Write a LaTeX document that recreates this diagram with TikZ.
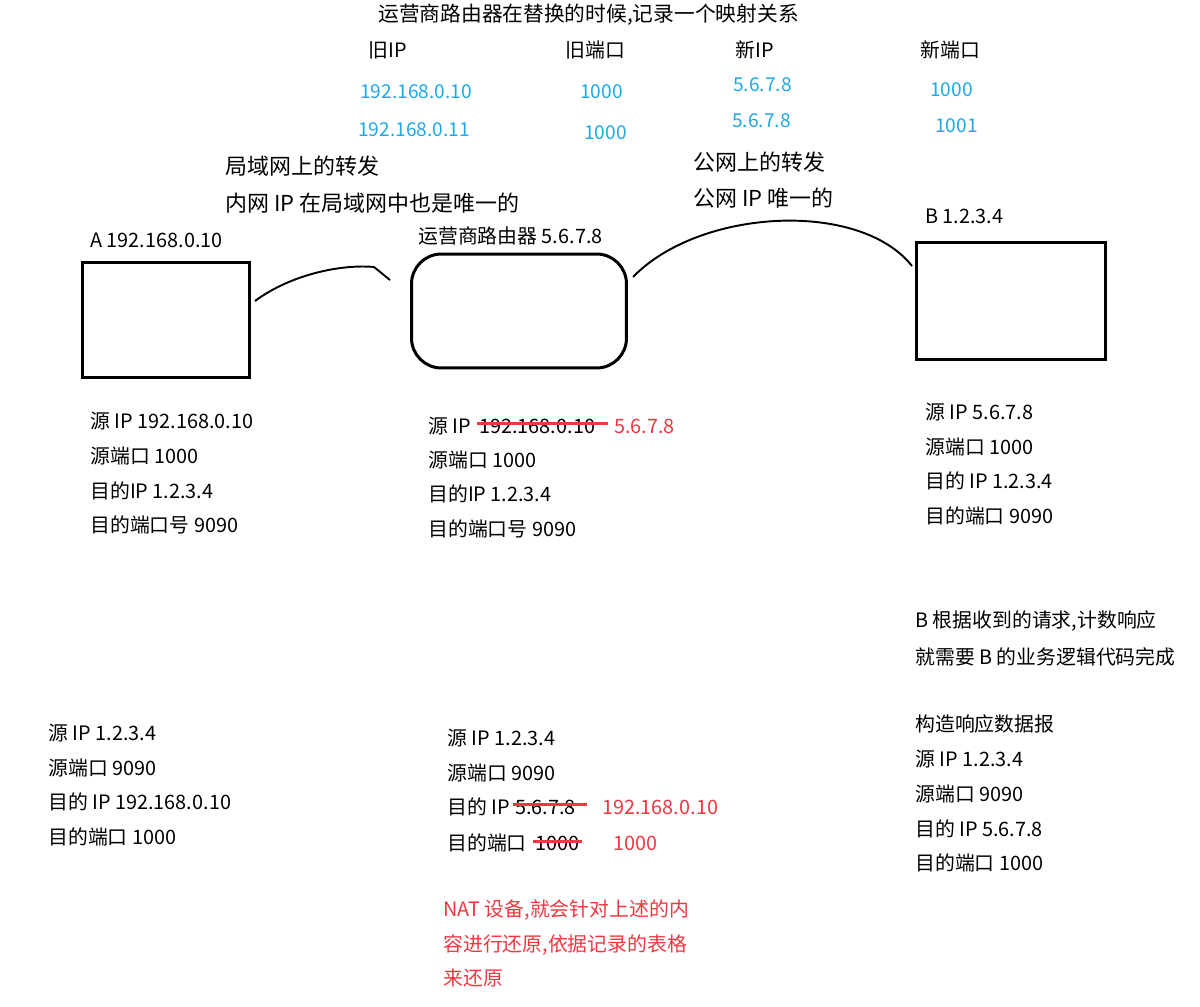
\documentclass[tikz,border=0pt]{standalone}
\usepackage{fontspec}
\setmainfont{Noto Sans CJK SC}
\usetikzlibrary{positioning}
\definecolor{tblue}{RGB}{30,168,230}
\definecolor{tred}{RGB}{240,55,65}

\begin{document}
\begin{tikzpicture}[x=0.02cm, y=-0.02cm,
    txt/.style={anchor=west, inner sep=0pt, font=\fontsize{11.3pt}{13pt}\selectfont},
    note/.style={txt, font=\fontsize{12.5pt}{15pt}\selectfont},
    tab/.style={txt, text=tblue, font=\fontsize{10.9pt}{13pt}\selectfont},
    chg/.style={txt, text=tred},
    host/.style={draw, line width=1.7pt, inner sep=0pt},
    link/.style={line width=1.1pt},
    strike/.style={draw=tred, line width=1.7pt}
]
\useasboundingbox (0,0) rectangle (1200,1007);

% mapping table
\node[txt, font=\fontsize{11.8pt}{14pt}\selectfont] (title) at (378,15) {运营商路由器在替换的时候,记录一个映射关系};
\node[txt] (hoip) at (368,50) {旧IP};
\node[txt] (hopt) at (565,50) {旧端口};
\node[txt] (hnip) at (735,50) {新IP};
\node[txt] (hnpt) at (920,50) {新端口};
\node[tab] (oip1) at (360,92) {192.168.0.10};
\node[tab] (opt1) at (580,92) {1000};
\node[tab] (nip1) at (733,85) {5.6.7.8};
\node[tab] (npt1) at (930,90) {1000};
\node[tab] (oip2) at (358,130) {192.168.0.11};
\node[tab] (opt2) at (584,133) {1000};
\node[tab] (nip2) at (732,121) {5.6.7.8};
\node[tab] (npt2) at (935,126) {1001};

% hosts
\node[note] (lan1) at (225,166) {局域网上的转发};
\node[note] (lan2) at (225,203) {内网 IP 在局域网中也是唯一的};
\node[note] (wan1) at (693,162) {公网上的转发};
\node[note] (wan2) at (693,198) {公网 IP 唯一的};
\node[txt] (alab) at (90,240) {A 192.168.0.10};
\node[txt] (rlab) at (418,236) {运营商路由器 5.6.7.8};
\node[txt] (blab) at (925,216) {B 1.2.3.4};
\node[host, minimum width=3.36cm, minimum height=2.32cm] (hostA) at (166,320) {};
\node[host, rounded corners=17pt, minimum width=4.3cm, minimum height=2.28cm] (router) at (519,311) {};
\node[host, minimum width=3.78cm, minimum height=2.36cm] (hostB) at (1011,301) {};

\coordinate (la) at (255,301);
\coordinate (lb) at (374,267);
\coordinate (lc) at (390,280);
\coordinate (wa) at (633,277);
\coordinate (wb) at (912,266);
\draw[link, line join=round] (la) .. controls (290,275) and (340,264) .. (lb) -- (lc);
\draw[link] (wa) .. controls (700,208) and (860,200) .. (wb);

% request
\node[txt] (a1) at (90,421) {源 IP 192.168.0.10};
\node[txt] (a2) at (90,456) {源端口 1000};
\node[txt] (a3) at (90,491) {目的IP 1.2.3.4};
\node[txt] (a4) at (90,525) {目的端口号 9090};

\node[txt] (r1) at (428,426) {源 IP};
\node[txt] (r1old) at (479,426) {192.168.0.10};
\node[chg] (r1new) at (614,426) {5.6.7.8};
\node[txt] (r2) at (428,460) {源端口 1000};
\node[txt] (r3) at (428,494) {目的IP 1.2.3.4};
\node[txt] (r4) at (428,529) {目的端口号 9090};
\draw[strike] ([xshift=-1pt,yshift=1.5pt]r1old.west) -- ([xshift=7pt,yshift=1.5pt]r1old.east);

\node[txt] (b1) at (925,412) {源 IP 5.6.7.8};
\node[txt] (b2) at (925,447) {源端口 1000};
\node[txt] (b3) at (925,481) {目的 IP 1.2.3.4};
\node[txt] (b4) at (925,516) {目的端口 9090};

% response
\node[txt] (bn1) at (915,621) {B 根据收到的请求,计数响应};
\node[txt] (bn2) at (915,657) {就需要 B 的业务逻辑代码完成};
\node[txt] (s0) at (915,724) {构造响应数据报};
\node[txt] (s1) at (915,759) {源 IP 1.2.3.4};
\node[txt] (s2) at (915,794) {源端口 9090};
\node[txt] (s3) at (915,829) {目的 IP 5.6.7.8};
\node[txt] (s4) at (915,863) {目的端口 1000};

\node[txt] (m1) at (447,738) {源 IP 1.2.3.4};
\node[txt] (m2) at (447,773) {源端口 9090};
\node[txt] (m3) at (447,807) {目的 IP};
\node[txt] (m3old) at (515,807) {5.6.7.8};
\node[chg] (m3new) at (602,807) {192.168.0.10};
\node[txt] (m4) at (447,843) {目的端口};
\node[txt] (m4old) at (535,843) {1000};
\node[chg] (m4new) at (613,843) {1000};
\draw[strike] ([xshift=-1pt,yshift=1.5pt]m3old.west) -- ([xshift=6pt,yshift=1.5pt]m3old.east);
\draw[strike] ([xshift=-1pt,yshift=1pt]m4old.west) -- ([xshift=1pt,yshift=1pt]m4old.east);

\node[txt] (d1) at (48,733) {源 IP 1.2.3.4};
\node[txt] (d2) at (48,768) {源端口 9090};
\node[txt] (d3) at (48,802) {目的 IP 192.168.0.10};
\node[txt] (d4) at (48,837) {目的端口 1000};

\node[chg] (nat1) at (443,910) {NAT 设备,就会针对上述的内};
\node[chg] (nat2) at (443,945) {容进行还原,依据记录的表格};
\node[chg] (nat3) at (443,978) {来还原};
\end{tikzpicture}
\end{document}
